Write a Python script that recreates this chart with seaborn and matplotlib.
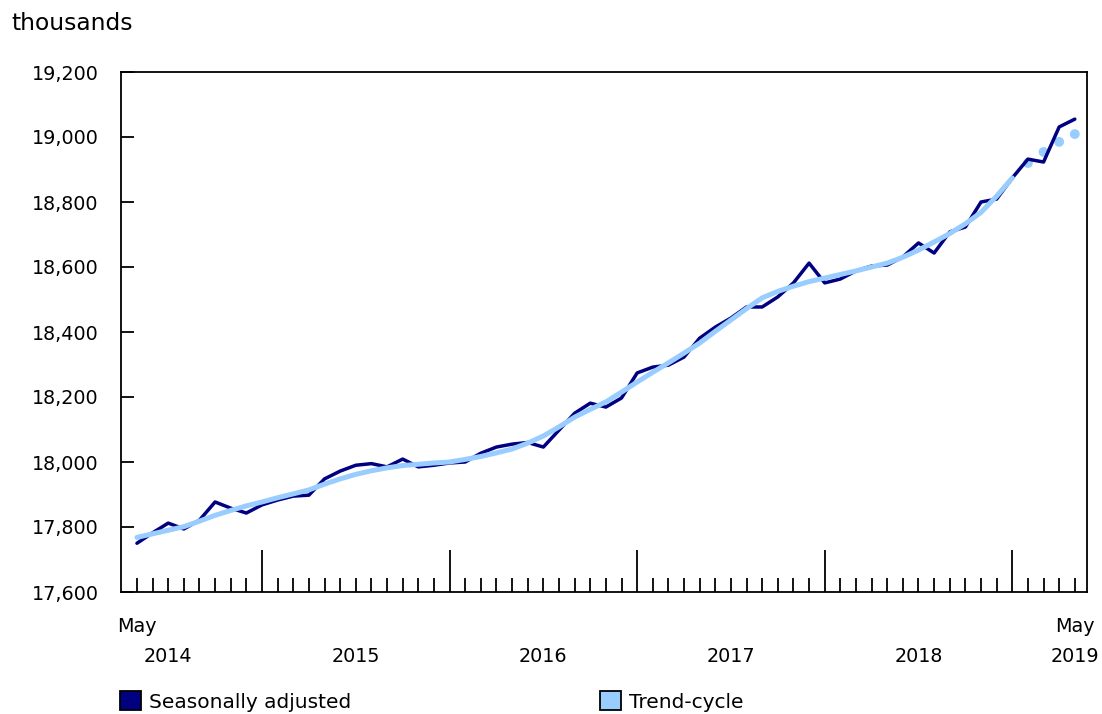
"""Employment chart: seasonally adjusted vs trend-cycle"""
import matplotlib

matplotlib.use("Agg")
import matplotlib.pyplot as plt
import matplotlib.transforms as mtransforms
import numpy as np
import pandas as pd
import seaborn as sns
from matplotlib.patches import Patch
from matplotlib.ticker import FuncFormatter

# months from May 2014 (index 0) to May 2019 (index 60)
seasonally_adjusted = [
    17750, 17782, 17812, 17794, 17821, 17877, 17858, 17843,  # 2014
    17868, 17883, 17895, 17898, 17948, 17972, 17990, 17995,
    17985, 18009, 17985, 17990,  # 2015
    17997, 18000, 18027, 18046, 18055, 18060, 18046, 18098,
    18150, 18181, 18169, 18197,  # 2016
    18274, 18292, 18298, 18323, 18381, 18415, 18443, 18477,
    18477, 18508, 18551, 18612,  # 2017
    18551, 18563, 18588, 18603, 18606, 18631, 18674, 18643,
    18708, 18723, 18800, 18809,  # 2018
    18874, 18932, 18923, 19031, 19055,  # 2019
]
trend_cycle = [
    17768, 17779, 17790, 17801, 17818, 17836, 17851, 17865,
    17877, 17890, 17902, 17914, 17932, 17948, 17962, 17973,
    17982, 17989, 17993, 17997,
    18000, 18008, 18017, 18028, 18040, 18058, 18080, 18108,
    18138, 18162, 18185, 18215,
    18246, 18276, 18305, 18335, 18366, 18402, 18437, 18472,
    18505, 18525, 18541, 18555,
    18566, 18577, 18588, 18600, 18612, 18630, 18652, 18677,
    18703, 18733, 18768, 18818,
    18874,
]
# last four trend-cycle points shown as dots
trend_dots = [18920, 18954, 18985, 19009]

year_labels = ["2014", "2015", "2016", "2017", "2018", "2019"]
year_label_pos = [2, 14, 26, 38, 50, 60]
january_pos = [8, 20, 32, 44, 56]

SA_COLOR = "#000080"
TC_COLOR = "#99CCFF"

sns.set_style("white")
plt.rcParams["font.family"] = ["DejaVu Sans"]
plt.rcParams["text.color"] = "black"
FS = 13.8

months = np.arange(len(seasonally_adjusted))
df_sa = pd.DataFrame({"month": months, "value": seasonally_adjusted})
df_tc = pd.DataFrame({"month": np.arange(len(trend_cycle)), "value": trend_cycle})
df_dots = pd.DataFrame(
    {"month": np.arange(len(trend_cycle), len(trend_cycle) + len(trend_dots)),
     "value": trend_dots}
)

fig = plt.figure(figsize=(11.02, 7.14), dpi=100)
ax = fig.add_axes([121 / 1102, 1 - 592 / 714, (1087 - 121) / 1102, (592 - 72) / 714])

sns.lineplot(data=df_sa, x="month", y="value", ax=ax, color=SA_COLOR, linewidth=2.5)
sns.lineplot(data=df_tc, x="month", y="value", ax=ax, color=TC_COLOR, linewidth=3.6)
sns.scatterplot(data=df_dots, x="month", y="value", ax=ax, color=TC_COLOR,
                s=50, edgecolor="none")

ax.set_xlim(-1.02, 60.78)
ax.set_ylim(17600, 19200)
ax.set_xlabel("")
ax.set_ylabel("")

ax.set_yticks(np.arange(17600, 19201, 200))
ax.yaxis.set_major_formatter(FuncFormatter(lambda v, _: f"{int(v):,}"))
ax.tick_params(axis="y", direction="in", length=9, width=1.3, pad=16, left=True,
               labelsize=FS, colors="black", labelcolor="black")

ax.set_xticks(january_pos)
ax.set_xticks(months, minor=True)
ax.set_xticklabels([])
ax.tick_params(axis="x", which="major", direction="in", length=30, width=1.3,
               bottom=True, color="black")
ax.tick_params(axis="x", which="minor", direction="in", length=10, width=1.3,
               bottom=True, color="black")

for spine in ax.spines.values():
    spine.set_visible(True)
    spine.set_color("black")
    spine.set_linewidth(1.3)

trans = mtransforms.blended_transform_factory(ax.transData, ax.transAxes)
ax.text(0, -34 / 520, "May", transform=trans, ha="center", va="center", fontsize=FS)
ax.text(60, -34 / 520, "May", transform=trans, ha="center", va="center", fontsize=FS)
for pos, lab in zip(year_label_pos, year_labels):
    ax.text(pos, -64 / 520, lab, transform=trans, ha="center", va="center", fontsize=FS)

fig.text(11 / 1102, 1 - 23 / 714, "thousands", ha="left", va="center", fontsize=16.8)

legend_items = [("Seasonally adjusted", SA_COLOR, 120), ("Trend-cycle", TC_COLOR, 600)]
for label, color, xpix in legend_items:
    fig.legend(
        handles=[Patch(facecolor=color, edgecolor="black", linewidth=1.3, label=label)],
        loc="upper left",
        bbox_to_anchor=(xpix / 1102, 1 - 691 / 714),
        frameon=False,
        fontsize=14.5,
        handlelength=1.05,
        handleheight=1.1,
        handletextpad=0.4,
        borderpad=0,
        borderaxespad=0,
    )

fig.savefig("out.png", dpi=100)
